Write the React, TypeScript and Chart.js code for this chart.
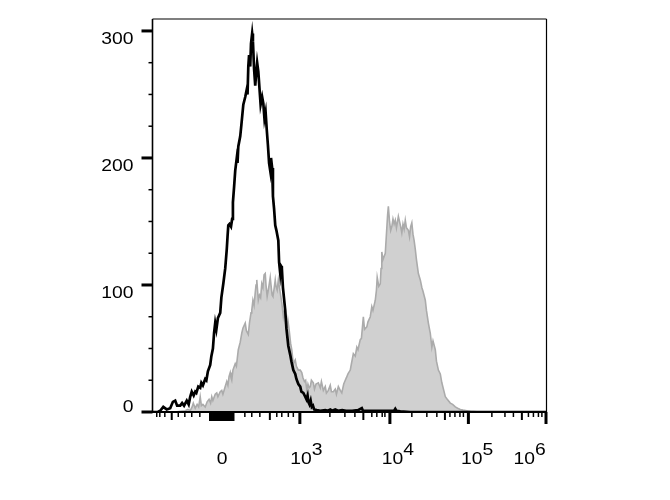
import React, { useEffect, useRef } from 'react';
import { Chart, registerables } from 'chart.js';

Chart.register(...registerables);

// Control (unstained) histogram: channel position and event count
const controlChannel = [0,14,20,28,37,46,53,59,64,72,77,82,89,94,98,102,107,111,114,119,124,127,131,137,140,144,150,153,157,160,163,166,170,176,179,184,189,193,195,197,200,204,207,209,212,215,219,221,223,228,231,236,241,245,247,249,251,254,256,259,261,264,267,269,272,275,278,281,285,288,291,294,297,300,303,306,308,311,313,316,319,322,327,329,332,334,336,339,345,348,353,358,361,366,371,374,379,384,387,392,397,400,403,405,408,411,414,417,420,427,436,449,456,462,467,475,482,493,503,519,534,544,547,566,592,618,628,631,634,644,670,1024];
const controlCount = [0,0,1,4,2,3,8,9,5,5,7,5,9,6,12,16,13,16,15,20,19,23,21,26,25,32,37,44,50,62,70,65,74,78,90,101,113,128,138,147,148,146,152,165,177,190,200,196,209,217,226,242,248,254,250,272,281,272,290,298,292,270,257,265,275,268,255,242,248,243,231,236,222,210,196,190,200,192,170,160,147,143,135,118,109,115,114,98,80,66,52,45,40,33,30,26,22,20,16,15,12,10,13,8,6,9,4,5,2,1.5,1,1.5,1,2,1,2,1,1.5,1,1,1.5,3,1,1,1,1,1,2.5,1,0.5,0,0];

// Stained histogram: channel position and event count
const stainedChannel = [0,59,72,85,92,98,103,106,111,116,120,124,127,131,137,142,147,151,154,157,163,167,170,176,180,183,189,193,196,199,202,204,206,209,215,218,223,228,232,235,241,244,249,252,256,258,261,264,267,269,271,273,275,278,281,284,287,290,293,295,298,302,306,308,311,313,316,319,321,324,327,330,333,336,340,343,346,349,352,355,359,362,366,371,374,379,384,388,391,395,398,401,404,407,410,413,418,421,425,431,436,439,444,449,452,457,462,465,470,475,478,483,488,492,497,501,504,508,514,517,522,527,531,534,540,543,548,551,557,560,566,570,573,579,582,584,588,592,594,596,599,605,608,611,613,616,619,622,625,628,631,634,639,642,645,648,651,654,657,660,665,668,671,674,677,680,683,686,691,696,700,703,709,712,717,722,726,729,735,738,743,748,752,757,761,766,774,780,787,793,800,807,817,826,852,1024];
const stainedCount = [0,0,0.5,1,2,1,4,7,3,6,4,12,5,6,4,8,10,7,12,9,14,15,12,16,17,14,20,24,21,28,31,27,25,33,38,36,49,55,62,66,70,64,61,70,78,80,88,84,94,100,104,96,88,92,90,101,98,108,109,100,91,98,106,100,92,91,97,104,99,96,104,98,92,86,75,80,70,64,72,65,54,49,38,41,36,33,33,31,27,24,25,17,22,19,20,25,23,18,22,23,19,24,17,20,15,17,21,16,16,18,14,20,17,15,22,25,27,30,33,38,46,44,51,49,57,58,75,65,67,71,75,83,80,88,96,106,99,101,113,126,120,125,140,155,162,150,143,146,152,148,151,145,154,150,146,141,148,144,151,145,143,138,146,149,140,135,128,120,109,104,98,95,88,80,70,62,51,56,49,40,33,30,23,17,12,10,7,6,4,3,2,1.5,1,0.5,0,0];

// Y axis ticks (counts)
const yTickValues = [0,25,50,75,100,125,150,175,200,225,250,275,300];
const yLabelValues = [0,100,200,300];

// X axis ticks (channels of the biexponential display)
const xMajorTicks = [383,617,821,1024];
const xMediumTicks = [50,181,305,548,760,960];
const xMinorTicks = [11,19,32,67,84,102,123,240,258,279,323,336,353,366,461,500,526,570,583,597,604,674,713,739,773,786,799,808,882,916,938,977,990,1003,1012];
const xZeroClusterTicks = [150,154,158,162,166,170,174,178,182,186,190,194,198,202,206,210];
const xLabelChannels = [181,386,624,830,966];
const xLabelBases = ['0','10','10','10','10'];
const xLabelExponents = ['','3','4','5','6'];

const FONT = '16.5px "Liberation Sans", Arial, Helvetica, sans-serif';
const STRETCH = 1.17;

const axesPlugin = {
  id: 'flowAxes',
  afterDatasetsDraw(chart: any) {
    const { ctx, chartArea: a } = chart;
    const x = chart.scales.x;
    const y = chart.scales.y;
    const seg = (x1: number, y1: number, x2: number, y2: number, w: number) => {
      ctx.lineWidth = w;
      ctx.beginPath();
      ctx.moveTo(x1, y1);
      ctx.lineTo(x2, y2);
      ctx.stroke();
    };
    ctx.save();
    ctx.strokeStyle = '#000';
    ctx.fillStyle = '#000';
    ctx.lineCap = 'butt';
    // frame
    seg(a.left, a.top, a.right, a.top, 1.2);
    seg(a.right, a.top, a.right, a.bottom, 1.2);
    seg(a.left, a.top, a.left, a.bottom + 1, 1.6);
    seg(a.left, a.bottom, a.right + 0.5, a.bottom, 2);

    // y ticks
    yTickValues.forEach((v) => {
      const py = y.getPixelForValue(v);
      const major = v % 100 === 0;
      seg(a.left - (major ? 11 : 4), py, a.left, py, major ? 3 : 1.5);
    });
    // y labels
    ctx.font = FONT;
    ctx.textBaseline = 'alphabetic';
    yLabelValues.forEach((v) => {
      const py = y.getPixelForValue(v) + (v === 0 ? 0 : 13);
      ctx.save();
      ctx.translate(a.left - 19, py);
      ctx.scale(STRETCH, 1);
      ctx.textAlign = 'right';
      ctx.fillText(String(v), 0, 0);
      ctx.restore();
    });

    // x ticks
    xMinorTicks.forEach((c) => {
      const px = x.getPixelForValue(c);
      seg(px, a.bottom, px, a.bottom + 5, 1.5);
    });
    xZeroClusterTicks.forEach((c) => {
      const px = x.getPixelForValue(c);
      seg(px, a.bottom, px, a.bottom + 9, 2.4);
    });
    xMediumTicks.forEach((c) => {
      const px = x.getPixelForValue(c);
      seg(px, a.bottom, px, a.bottom + 8, 2);
    });
    xMajorTicks.forEach((c) => {
      const px = Math.min(x.getPixelForValue(c), a.right - 0.5);
      seg(px, a.bottom, px, a.bottom + 12, 3);
    });

    // x labels
    const baseY = a.bottom + 51.5;
    xLabelChannels.forEach((c, i) => {
      const px = x.getPixelForValue(c);
      ctx.save();
      ctx.translate(px, baseY);
      ctx.scale(STRETCH, 1);
      ctx.textAlign = 'center';
      ctx.fillText(xLabelBases[i], 0, 0);
      if (xLabelExponents[i]) {
        const w = ctx.measureText(xLabelBases[i]).width;
        ctx.textAlign = 'left';
        ctx.fillText(xLabelExponents[i], w / 2, -8.5);
      }
      ctx.restore();
    });
    ctx.restore();
  },
};

export default function App() {
  const canvasRef = useRef<HTMLCanvasElement | null>(null);

  useEffect(() => {
    const canvas = canvasRef.current;
    if (!canvas) return;
    const chart = new Chart(canvas, {
      type: 'line',
      data: {
        datasets: [
          {
            label: 'Control',
            data: controlChannel.map((c, i) => ({ x: c, y: controlCount[i] })),
            borderColor: '#000000',
            borderWidth: 2.7,
            fill: false,
            pointRadius: 0,
            tension: 0,
            order: 0,
          },
          {
            label: 'Stained',
            data: stainedChannel.map((c, i) => ({ x: c, y: stainedCount[i] })),
            borderColor: '#ababab',
            backgroundColor: '#d0d0d0',
            borderWidth: 1.6,
            fill: 'origin',
            pointRadius: 0,
            tension: 0,
            order: 1,
          },
        ],
      },
      options: {
        animation: false,
        responsive: false,
        events: [],
        layout: { padding: { left: 152.5, right: 123.5, top: 19, bottom: 88 } },
        plugins: { legend: { display: false }, tooltip: { enabled: false } },
        scales: {
          x: { type: 'linear', min: 0, max: 1024, display: false },
          y: { type: 'linear', min: 0, max: 309.4, display: false },
        },
      },
      plugins: [axesPlugin],
    });
    return () => chart.destroy();
  }, []);

  return (
    <div style={{ position: 'absolute', left: 0, top: 0, width: 670, height: 500, background: '#fff' }}>
      <canvas ref={canvasRef} width={670} height={500} />
    </div>
  );
}
